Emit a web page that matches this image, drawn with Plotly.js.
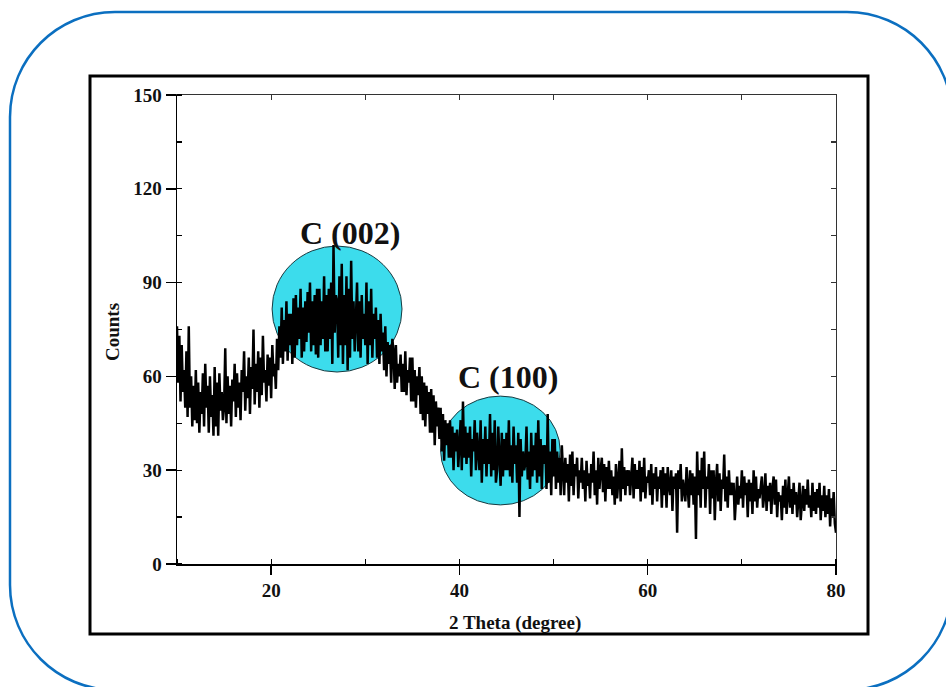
<!DOCTYPE html>
<html>
<head>
<meta charset="utf-8">
<script src="https://cdn.plot.ly/plotly-3.0.1.min.js"></script>
<style>
  html, body { margin: 0; padding: 0; background: #ffffff; }
  #chart { width: 946px; height: 687px; }
</style>
</head>
<body>
<div id="chart"></div>
<script>
// ---- Data ----
const thetaStart = 10;      // first 2-theta of the scan (degree)
const thetaStep = 0.125;    // scan step (degree)
// Counts, eight readings per degree, from 10 to 80 degree
const counts = [
  76, 58, 73, 52, 70, 55, 62, 50,   // 10
  68, 47, 76, 50, 60, 44, 57, 46,   // 11
  62, 45, 58, 42, 55, 48, 61, 44,   // 12
  64, 50, 57, 42, 60, 47, 54, 41,   // 13
  63, 44, 58, 41, 61, 49, 55, 46,   // 14
  50, 69, 45, 60, 48, 57, 44, 59,   // 15
  52, 64, 47, 61, 50, 58, 46, 62,   // 16
  55, 68, 49, 60, 53, 66, 48, 63,   // 17
  56, 75, 51, 64, 55, 68, 50, 66,   // 18
  54, 73, 58, 62, 52, 67, 57, 66,   // 19
  53, 70, 60, 64, 56, 72, 62, 76,   // 20
  66, 82, 64, 78, 68, 84, 65, 80,   // 21
  70, 80, 64, 85, 66, 86, 70, 82,   // 22
  72, 88, 66, 82, 68, 84, 71, 87,   // 23
  74, 90, 68, 84, 70, 86, 67, 88,   // 24
  66, 88, 70, 84, 72, 92, 68, 86,   // 25
  68, 88, 72, 90, 64, 102, 74, 86,  // 26
  84, 66, 92, 70, 96, 64, 86, 70,   // 27
  92, 62, 88, 66, 97, 72, 84, 68,   // 28
  78, 90, 68, 84, 66, 86, 72, 80,   // 29
  70, 90, 64, 84, 70, 88, 66, 80,   // 30
  72, 82, 66, 78, 64, 80, 68, 74,   // 31
  62, 76, 60, 71, 64, 70, 58, 72,   // 32
  68, 56, 70, 58, 64, 60, 67, 55,   // 33
  64, 55, 68, 54, 62, 58, 66, 52,   // 34
  66, 52, 62, 50, 60, 54, 63, 48,   // 35
  60, 46, 58, 44, 57, 48, 55, 42,   // 36
  56, 42, 54, 38, 52, 44, 50, 40,   // 37
  50, 36, 48, 33, 46, 38, 45, 34,   // 38
  46, 34, 44, 30, 42, 36, 43, 31,   // 39
  38, 46, 30, 52, 34, 44, 32, 42,   // 40
  34, 44, 28, 40, 36, 46, 30, 42,   // 41
  36, 30, 46, 26, 40, 32, 44, 28,   // 42
  40, 32, 48, 28, 42, 30, 46, 26,   // 43
  30, 44, 34, 25, 42, 28, 40, 30,   // 44
  42, 30, 46, 28, 38, 26, 44, 32,   // 45
  38, 26, 42, 15, 40, 28, 36, 30,   // 46
  32, 44, 27, 36, 24, 42, 28, 38,   // 47
  30, 42, 26, 46, 28, 40, 24, 38,   // 48
  32, 38, 24, 48, 26, 36, 22, 40,   // 49
  28, 40, 24, 36, 26, 34, 22, 38,   // 50
  30, 22, 34, 26, 32, 20, 35, 25,   // 51
  36, 22, 32, 28, 34, 21, 30, 26,   // 52
  34, 24, 30, 20, 33, 25, 29, 21,   // 53
  32, 26, 36, 22, 30, 19, 34, 24,   // 54
  30, 34, 23, 32, 20, 31, 24, 33,   // 55
  24, 30, 22, 28, 19, 32, 21, 29,   // 56
  33, 20, 37, 24, 31, 22, 30, 25,   // 57
  30, 22, 28, 34, 21, 32, 24, 30,   // 58
  24, 33, 20, 31, 23, 34, 21, 28,   // 59
  26, 30, 22, 32, 19, 29, 24, 31,   // 60
  20, 28, 24, 30, 18, 31, 22, 29,   // 61
  18, 31, 25, 22, 30, 17, 28, 24,   // 62
  29, 10, 30, 24, 32, 20, 27, 22,   // 63
  20, 31, 26, 18, 30, 22, 29, 19,   // 64
  28, 8, 36, 22, 30, 18, 34, 24,    // 65
  36, 18, 28, 24, 32, 16, 30, 21,   // 66
  30, 14, 26, 32, 20, 29, 17, 27,   // 67
  24, 35, 20, 28, 18, 30, 22, 26,   // 68
  22, 26, 14, 24, 28, 19, 25, 21,   // 69
  30, 18, 28, 22, 26, 15, 27, 20,   // 70
  26, 16, 30, 20, 28, 18, 24, 21,   // 71
  24, 28, 18, 22, 29, 17, 25, 20,   // 72
  26, 16, 24, 28, 19, 27, 15, 23,   // 73
  20, 22, 14, 25, 18, 27, 16, 24,   // 74
  28, 18, 24, 16, 26, 19, 23, 15,   // 75
  22, 26, 14, 20, 25, 17, 24, 19,   // 76
  27, 18, 22, 15, 26, 17, 23, 16,   // 77
  24, 18, 26, 14, 22, 17, 25, 15,   // 78
  22, 16, 24, 12, 21, 15, 23, 13,   // 79
  10                                // 80
];
const theta = counts.map((_, i) => thetaStart + i * thetaStep);

const xTickVals = [20, 40, 60, 80];
const xTickText = ['20', '40', '60', '80'];
const yTickVals = [0, 30, 60, 90, 120, 150];
const yTickText = ['0', '30', '60', '90', '120', '150'];

const peakLabels = ['C (002)', 'C (100)'];
const peakLabelX = [28.4, 45.2];
const peakLabelY = [105.9, 59.8];
// highlight circles: [x0, x1, y0, y1] in data units
const peakCircles = [[20.1, 33.9, 61.4, 101.7], [38.0, 50.7, 18.9, 53.7]];

// ---- Layout helpers ----
const W = 946, H = 687;
const px = v => v / W;
const py = v => 1 - v / H;

function roundedRectPath(x0, y0, x1, y1, r) {
  const k = 0.5523 * r;
  const P = (x, y) => px(x).toFixed(5) + ',' + py(y).toFixed(5);
  return 'M' + P(x0 + r, y0) +
    ' L' + P(x1 - r, y0) +
    ' C' + P(x1 - r + k, y0) + ' ' + P(x1, y0 + r - k) + ' ' + P(x1, y0 + r) +
    ' L' + P(x1, y1 - r) +
    ' C' + P(x1, y1 - r + k) + ' ' + P(x1 - r + k, y1) + ' ' + P(x1 - r, y1) +
    ' L' + P(x0 + r, y1) +
    ' C' + P(x0 + r - k, y1) + ' ' + P(x0, y1 - r + k) + ' ' + P(x0, y1 - r) +
    ' L' + P(x0, y0 + r) +
    ' C' + P(x0, y0 + r - k) + ' ' + P(x0 + r - k, y0) + ' ' + P(x0 + r, y0) + ' Z';
}

const serif = 'Liberation Serif, Times New Roman, serif';
const tickFont = { family: serif, size: 19, color: '#111111', weight: 'bold' };

const xDomain = [px(177), px(836)];
const yDomain = [py(564), py(95)];

const trace = {
  x: theta, y: counts, type: 'scatter', mode: 'lines',
  line: { color: '#000000', width: 2.5 },
  hoverinfo: 'x+y', showlegend: false
};

const shapes = [
  { type: 'path', xref: 'paper', yref: 'paper', path: roundedRectPath(10, 12, 952, 690, 105),
    line: { color: '#0b6fc0', width: 2.5 }, fillcolor: 'rgba(0,0,0,0)', layer: 'below' },
  { type: 'rect', xref: 'paper', yref: 'paper', x0: px(90), x1: px(868), y0: py(634), y1: py(76),
    line: { color: '#000000', width: 3 }, fillcolor: 'rgba(0,0,0,0)', layer: 'below' }
];
peakCircles.forEach(c => shapes.push({
  type: 'circle', xref: 'x', yref: 'y', x0: c[0], x1: c[1], y0: c[2], y1: c[3],
  fillcolor: '#3cdcec', line: { color: '#1a3a40', width: 1 }, layer: 'below'
}));

const annotations = peakLabels.map((t, i) => ({
  x: peakLabelX[i], y: peakLabelY[i], xref: 'x', yref: 'y', text: t, showarrow: false,
  font: { family: serif, size: 32, color: '#111111', weight: 'bold' }, xanchor: 'center', yanchor: 'middle'
}));
annotations.push({
  x: px(515), y: py(623), xref: 'paper', yref: 'paper', text: '2 Theta (degree)', showarrow: false,
  font: { family: serif, size: 19, color: '#111111', weight: 'bold' }, xanchor: 'center', yanchor: 'middle'
});
annotations.push({
  x: px(112), y: py(332), xref: 'paper', yref: 'paper', text: 'Counts', showarrow: false, textangle: -90,
  font: { family: serif, size: 19, color: '#111111', weight: 'bold' }, xanchor: 'center', yanchor: 'middle'
});

const layout = {
  width: W, height: H,
  margin: { l: 0, r: 0, t: 0, b: 0, pad: 0 },
  paper_bgcolor: '#ffffff', plot_bgcolor: 'rgba(0,0,0,0)',
  showlegend: false,
  xaxis: {
    domain: xDomain, range: [10, 80], showgrid: false, zeroline: false,
    showline: true, linecolor: '#000000', linewidth: 1.5,
    tickmode: 'array', tickvals: xTickVals, ticktext: xTickText,
    ticks: 'outside', ticklen: 9, tickwidth: 1.5, tickcolor: '#000000',
    minor: { ticks: 'inside', dtick: 10, tick0: 10, ticklen: 5, tickwidth: 1.2, tickcolor: '#000000', showgrid: false },
    tickfont: tickFont
  },
  yaxis: {
    domain: yDomain, range: [0, 150], showgrid: false, zeroline: false,
    showline: true, linecolor: '#000000', linewidth: 1.5,
    tickmode: 'array', tickvals: yTickVals, ticktext: yTickText,
    ticks: 'outside', ticklen: 10, tickwidth: 1.5, tickcolor: '#000000',
    minor: { ticks: 'inside', dtick: 15, tick0: 0, ticklen: 5, tickwidth: 1.2, tickcolor: '#000000', showgrid: false },
    tickfont: tickFont
  },
  xaxis2: {
    domain: xDomain, range: [10, 80], overlaying: 'x', side: 'top', anchor: 'y',
    showgrid: false, zeroline: false, showline: true, linecolor: '#333333', linewidth: 1.2,
    ticks: 'inside', dtick: 10, tick0: 10, ticklen: 5, tickwidth: 1.2, tickcolor: '#333333', showticklabels: false
  },
  yaxis2: {
    domain: yDomain, range: [0, 150], overlaying: 'y', side: 'right', anchor: 'x',
    showgrid: false, zeroline: false, showline: true, linecolor: '#333333', linewidth: 1.2,
    ticks: 'inside', dtick: 15, tick0: 0, ticklen: 5, tickwidth: 1.2, tickcolor: '#333333', showticklabels: false
  },
  shapes: shapes,
  annotations: annotations
};

// invisible helper trace so the top/right axes get drawn
const frameTrace = { x: [10, 80], y: [0, 150], xaxis: 'x2', yaxis: 'y2', mode: 'markers',
  marker: { opacity: 0 }, hoverinfo: 'skip', showlegend: false };

Plotly.newPlot('chart', [trace, frameTrace], layout, { displayModeBar: false, staticPlot: true });
</script>
</body>
</html>
